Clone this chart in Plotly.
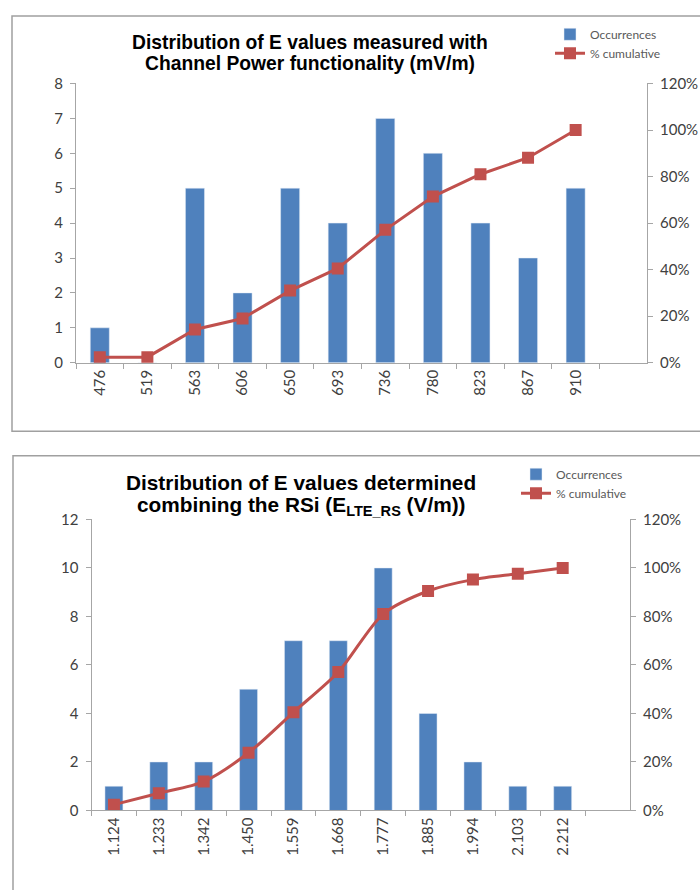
import plotly.graph_objects as go

# ---- data: top chart ----
top_title_1 = "Distribution of E values measured with"
top_title_2 = "Channel Power functionality (mV/m)"
top_bins = ["476", "519", "563", "606", "650", "693", "736", "780", "823", "867", "910"]
top_occ = [1, 0, 5, 2, 5, 4, 7, 6, 4, 3, 5]
top_cum = [2.4, 2.4, 14.3, 19.0, 31.0, 40.5, 57.1, 71.4, 81.0, 88.1, 100.0]

# ---- data: bottom chart ----
bot_title_1 = "Distribution of E values determined"
bot_title_2 = "combining the RSi (E<sub>LTE_RS</sub> (V/m))"
bot_bins = ["1.124", "1.233", "1.342", "1.450", "1.559", "1.668", "1.777", "1.885", "1.994", "2.103", "2.212"]
bot_occ = [1, 2, 2, 5, 7, 7, 10, 4, 2, 1, 1]
bot_cum = [2.4, 7.1, 11.9, 23.8, 40.5, 57.1, 81.0, 90.5, 95.2, 97.6, 100.0]

W, H = 700, 890
BAR = "#4F81BD"
RED = "#C0504D"
AX = "#A6A6A6"
TXT = "#404040"
TICKFONT = dict(family="Lato, Open Sans, sans-serif", size=15, color=TXT)
LEGFONT = dict(family="Lato, Open Sans, sans-serif", size=12, color="#595959")
TITLEFONT_TOP = dict(family="Liberation Sans, Arial, sans-serif", size=19.3, color="black")
TITLEFONT_BOT = dict(family="Liberation Sans, Arial, sans-serif", size=20.8, color="black")

def px_x(p):
    return p / W

def px_y(p):
    return 1 - p / H

fig = go.Figure()

# top chart traces
fig.add_trace(go.Bar(x=top_bins, y=top_occ, name="Occurrences", marker_color=BAR,
                     width=0.4, xaxis="x", yaxis="y", legend="legend"))
fig.add_trace(go.Scatter(x=top_bins, y=top_cum, name="% cumulative", mode="lines+markers",
                         line=dict(color=RED, width=3),
                         marker=dict(symbol="square", size=12, color=RED),
                         xaxis="x", yaxis="y2", legend="legend"))
# bottom chart traces
fig.add_trace(go.Bar(x=bot_bins, y=bot_occ, name="Occurrences", marker_color=BAR,
                     width=0.4, xaxis="x2", yaxis="y3", legend="legend2"))
fig.add_trace(go.Scatter(x=bot_bins, y=bot_cum, name="% cumulative", mode="lines+markers",
                         line=dict(color=RED, width=3, shape="spline", smoothing=0.8),
                         marker=dict(symbol="square", size=12, color=RED),
                         xaxis="x2", yaxis="y4", legend="legend2"))

xcommon = dict(type="category", range=[-0.5, 11.5], showline=True, linecolor=AX, linewidth=1,
               ticks="outside", tickson="boundaries", ticklen=5, tickcolor=AX,
               tickangle=-90, tickfont=TICKFONT, showgrid=False, zeroline=False, fixedrange=True)
ycommon = dict(showline=True, linecolor=AX, linewidth=1, ticks="outside", ticklen=5,
               tickcolor=AX, tickfont=TICKFONT, showgrid=False, zeroline=False, fixedrange=True,
               ticklabelstandoff=4)

top_xd = [px_x(76), px_x(647)]
top_yd = [px_y(360), px_y(75)]
bot_xd = [px_x(91.5), px_x(630)]
bot_yd = [px_y(817), px_y(520)]

def title_ann(text, x, y, font):
    return dict(text="<b>" + text + "</b>", x=px_x(x), y=px_y(y), xref="paper", yref="paper",
                showarrow=False, xanchor="center", yanchor="middle", font=font)

fig.update_layout(
    width=W, height=H,
    margin=dict(l=0, r=0, t=0, b=0),
    paper_bgcolor="white", plot_bgcolor="white",
    xaxis=dict(xcommon, domain=top_xd, anchor="y"),
    yaxis=dict(ycommon, domain=top_yd, anchor="x", range=[0, 8], dtick=1),
    yaxis2=dict(ycommon, overlaying="y", side="right", anchor="x", range=[0, 120], dtick=20,
                ticksuffix="%"),
    xaxis2=dict(xcommon, domain=bot_xd, anchor="y3"),
    yaxis3=dict(ycommon, domain=bot_yd, anchor="x2", range=[0, 12], dtick=2),
    yaxis4=dict(ycommon, overlaying="y3", side="right", anchor="x2", range=[0, 120], dtick=20,
                ticksuffix="%"),
    legend=dict(x=px_x(550), y=px_y(10), xanchor="left", yanchor="top", font=LEGFONT,
                bgcolor="rgba(0,0,0,0)", tracegroupgap=0, itemwidth=30),
    legend2=dict(x=px_x(516), y=px_y(459), xanchor="left", yanchor="top", font=LEGFONT,
                 bgcolor="rgba(0,0,0,0)", tracegroupgap=0, itemwidth=30),
    showlegend=True,
    annotations=[
        title_ann(top_title_1, 310, 33, TITLEFONT_TOP),
        title_ann(top_title_2, 310, 55, TITLEFONT_TOP),
        title_ann(bot_title_1, 301, 482, TITLEFONT_BOT),
        title_ann(bot_title_2, 301, 506, TITLEFONT_BOT),
    ],
    shapes=[
        dict(type="rect", xref="paper", yref="paper", x0=px_x(12), x1=1.05, y0=px_y(430), y1=px_y(6),
             line=dict(color="#A0A0A0", width=1.5), layer="below"),
        dict(type="rect", xref="paper", yref="paper", x0=px_x(13), x1=1.05, y0=-0.05, y1=px_y(455),
             line=dict(color="#A0A0A0", width=1.5), layer="below"),
    ],
)

fig.write_html("out.html", config={"displayModeBar": False},
               post_script="document.body.style.margin='0';document.body.style.overflow='hidden';")
